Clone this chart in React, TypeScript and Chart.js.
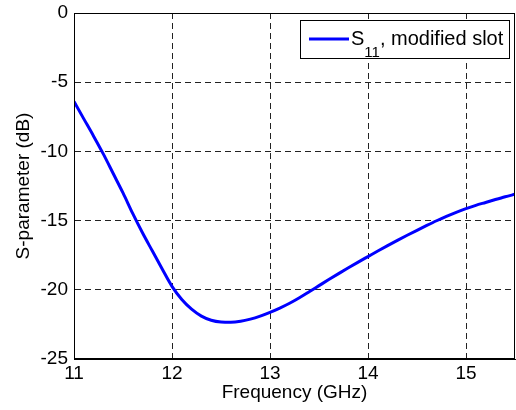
import React, { useEffect, useRef } from "react";
import { Chart, registerables } from "chart.js";

Chart.register(...registerables);

// Reflection coefficient of the modified slot, sampled every 0.1 GHz
const frequencyGHz: number[] = [
  11.0, 11.1, 11.2, 11.3, 11.4, 11.5, 11.6, 11.7, 11.8, 11.9,
  12.0, 12.1, 12.2, 12.3, 12.4, 12.5, 12.6, 12.7, 12.8, 12.9,
  13.0, 13.1, 13.2, 13.3, 13.4, 13.5, 13.6, 13.7, 13.8, 13.9,
  14.0, 14.1, 14.2, 14.3, 14.4, 14.5, 14.6, 14.7, 14.8, 14.9,
  15.0, 15.1, 15.2, 15.3, 15.4, 15.5,
];
const s11dB: number[] = [
  -6.4, -7.65, -8.9, -10.2, -11.6, -13.0, -14.5, -15.9, -17.2, -18.5,
  -19.75, -20.7, -21.4, -21.9, -22.2, -22.33, -22.35, -22.28, -22.12, -21.9,
  -21.63, -21.32, -20.97, -20.57, -20.14, -19.7, -19.26, -18.83, -18.41, -18.0,
  -17.6, -17.2, -16.81, -16.43, -16.06, -15.7, -15.35, -15.01, -14.69, -14.4,
  -14.14, -13.9, -13.69, -13.48, -13.28, -13.1,
];

const xTicks: number[] = [11, 12, 13, 14, 15];
const yTicks: number[] = [-25, -20, -15, -10, -5, 0];

const FONT = "'Liberation Sans', Arial, sans-serif";
const FONT_SIZE = 19;

// Solid frame around the plot area plus a boxed legend with a subscripted label
const framePlugin = {
  id: "frameAndLegend",
  afterDraw(chart: Chart) {
    const { ctx, chartArea } = chart;
    const { left, top, right, bottom } = chartArea;
    ctx.save();
    ctx.strokeStyle = "#000";
    ctx.lineWidth = 1;
    ctx.setLineDash([]);
    ctx.strokeRect(left + 0.5, top + 0.5, right - left - 1, bottom - top - 1);

    // legend box
    const bx = 300.5, by = 20.5, bw = 209, bh = 38;
    ctx.fillStyle = "#fff";
    ctx.fillRect(bx, by, bw, bh);
    ctx.strokeRect(bx, by, bw, bh);

    ctx.strokeStyle = "#0000ff";
    ctx.lineWidth = 3;
    ctx.beginPath();
    ctx.moveTo(309, 39);
    ctx.lineTo(349, 39);
    ctx.stroke();

    ctx.fillStyle = "#000";
    ctx.textBaseline = "alphabetic";
    ctx.textAlign = "left";
    ctx.font = `20px ${FONT}`;
    let x = 351;
    ctx.fillText("S", x, 45);
    x += ctx.measureText("S").width;
    ctx.font = `15px ${FONT}`;
    ctx.fillText("11", x, 57);
    x += ctx.measureText("11").width;
    ctx.font = `20px ${FONT}`;
    ctx.fillText(", modified slot", x, 45);
    ctx.restore();
  },
};

export default function App() {
  const canvasRef = useRef<HTMLCanvasElement | null>(null);

  useEffect(() => {
    const canvas = canvasRef.current;
    if (!canvas) return;
    const chart = new Chart(canvas, {
      type: "line",
      data: {
        datasets: [
          {
            label: "S11, modified slot",
            data: frequencyGHz.map((f, i) => ({ x: f, y: s11dB[i] })),
            borderColor: "#0000ff",
            borderWidth: 3,
            pointRadius: 0,
            cubicInterpolationMode: "monotone",
            fill: false,
          },
        ],
      },
      options: {
        animation: false,
        responsive: false,
        maintainAspectRatio: false,
        layout: { padding: { top: 13, right: 1, left: 0, bottom: 0 } },
        plugins: {
          legend: { display: false },
          tooltip: { enabled: false },
        },
        scales: {
          x: {
            type: "linear",
            min: 11,
            max: 15.5,
            afterBuildTicks: (scale: any) => {
              scale.ticks = xTicks.map((v) => ({ value: v }));
            },
            afterFit: (scale: any) => {
              scale.height = 51;
              scale.paddingLeft = 0;
              scale.paddingRight = 0;
            },
            grid: {
              color: "#222",
              lineWidth: 1,
              drawTicks: false,
            },
            border: { display: true, color: "#000", width: 1, dash: [6, 4] },
            ticks: {
              color: "#000",
              font: { family: FONT, size: FONT_SIZE },
              padding: 3,
              maxRotation: 0,
              callback: (v: any) => String(v),
            },
            title: {
              display: true,
              text: "Frequency (GHz)",
              color: "#000",
              font: { family: FONT, size: FONT_SIZE },
              padding: { top: 0, bottom: 6 },
            },
          },
          y: {
            type: "linear",
            min: -25,
            max: 0,
            afterBuildTicks: (scale: any) => {
              scale.ticks = yTicks.map((v) => ({ value: v }));
            },
            afterFit: (scale: any) => {
              scale.width = 74;
              scale.paddingTop = 0;
              scale.paddingBottom = 0;
            },
            grid: {
              color: "#222",
              lineWidth: 1,
              drawTicks: false,
            },
            border: { display: true, color: "#000", width: 1, dash: [6, 4] },
            ticks: {
              color: "#000",
              font: { family: FONT, size: FONT_SIZE },
              padding: 6,
              callback: (v: any) => String(v),
            },
            title: {
              display: true,
              text: "S-parameter (dB)",
              color: "#000",
              font: { family: FONT, size: FONT_SIZE },
              padding: { top: 12, bottom: 0 },
            },
          },
        },
      },
      plugins: [framePlugin],
    } as any);
    return () => chart.destroy();
  }, []);

  return (
    <div style={{ position: "fixed", left: 0, top: 0, width: 516, height: 410, background: "#fff" }}>
      <canvas ref={canvasRef} width={516} height={410} style={{ width: 516, height: 410 }} />
    </div>
  );
}
